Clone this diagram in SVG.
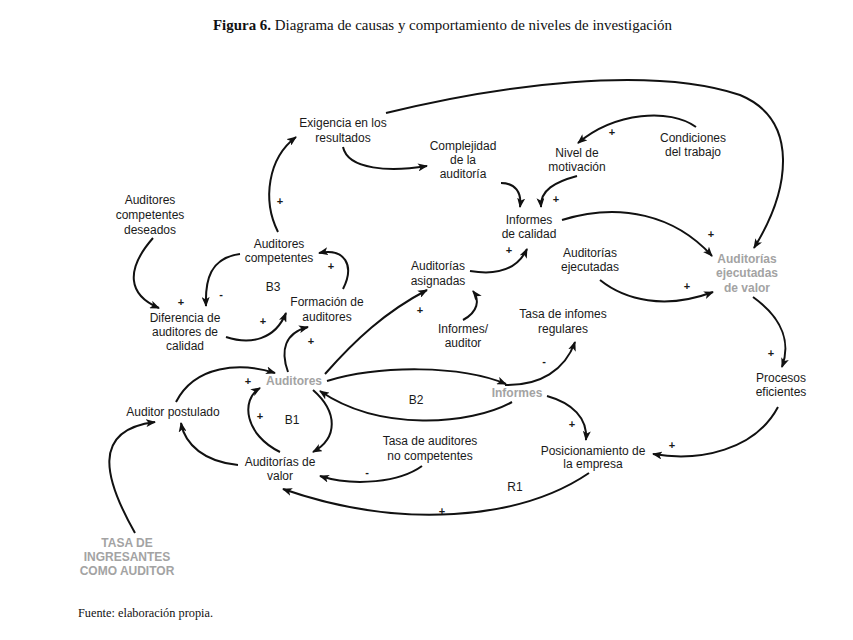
<svg xmlns="http://www.w3.org/2000/svg" width="853" height="640" viewBox="0 0 853 640">
<style>
.n{font-family:"Liberation Sans",Arial,sans-serif;font-size:12px;fill:#1a1a1a;text-anchor:middle}
.g{font-family:"Liberation Sans",Arial,sans-serif;font-size:12px;font-weight:bold;fill:#a3a3a3;text-anchor:middle}
.p{font-family:"Liberation Sans",Arial,sans-serif;font-size:11px;font-weight:bold;fill:#1a1a1a;text-anchor:middle}
.l{font-family:"Liberation Sans",Arial,sans-serif;font-size:12px;fill:#1a1a1a;text-anchor:middle}
.c path{fill:none;stroke:#111;stroke-width:2;marker-end:url(#a)}
.s{font-family:"Liberation Serif","Times New Roman",serif;fill:#111}
</style>
<defs>
<marker id="a" viewBox="0 0 10 8" refX="9" refY="4" markerWidth="10" markerHeight="8" markerUnits="userSpaceOnUse" orient="auto">
<path d="M0,0 L10,4 L0,8 L2.5,4 z" fill="#111"/>
</marker>
</defs>
<rect width="853" height="640" fill="#fff"/>
<text class="s" x="213" y="30" font-size="15" textLength="459" lengthAdjust="spacingAndGlyphs"><tspan font-weight="bold">Figura 6.</tspan> Diagrama de causas y comportamiento de niveles de investigación</text>
<text class="s" x="78" y="617" font-size="13" textLength="135" lengthAdjust="spacingAndGlyphs">Fuente: elaboración propia.</text>

<g class="c" id="connectors">
<path d="M278,232 C262,200 268,158 296,137"/>
<path d="M343,147 C348,170 390,172 427,166"/>
<path d="M386,113 C500,85 650,65 740,95 C800,120 790,190 754,248"/>
<path d="M153,238 C125,270 128,295 159,308"/>
<path d="M240,254 C210,258 205,280 206,306"/>
<path d="M226,337 C250,345 275,340 286,313"/>
<path d="M343,289 C355,265 345,248 319,253"/>
<path d="M288,372 C280,350 285,333 308,327"/>
<path d="M325,374 C355,340 385,312 427,290"/>
<path d="M463,320 C478,312 480,300 473,291"/>
<path d="M470,271 C500,276 518,268 527,249"/>
<path d="M501,183 C515,183 522,192 520,207"/>
<path d="M577,176 C555,182 540,190 541,207"/>
<path d="M696,127 C670,108 615,112 578,143"/>
<path d="M562,220 C620,202 675,215 712,256"/>
<path d="M600,280 C625,300 665,310 713,292"/>
<path d="M753,297 C785,320 790,345 782,367"/>
<path d="M778,407 C755,450 700,462 653,454"/>
<path d="M547,396 C572,403 588,418 586,440"/>
<path d="M327,381 C380,365 460,365 506,384"/>
<path d="M505,385 C540,386 565,370 575,342"/>
<path d="M512,402 C470,425 380,432 320,391"/>
<path d="M313,390 C338,412 338,438 313,452"/>
<path d="M280,452 C245,435 240,400 260,388"/>
<path d="M238,465 C205,462 185,445 181,423"/>
<path d="M176,402 C195,365 240,362 275,373"/>
<path d="M135,533 C105,480 90,430 155,422"/>
<path d="M422,466 C400,482 355,487 320,476"/>
<path d="M589,473 C520,520 400,530 283,489"/>
</g>

<g id="n-exigencia"><text class="n" x="343" y="127">Exigencia en los</text><text class="n" x="343" y="142">resultados</text></g>
<g id="n-deseados"><text class="n" x="150" y="204">Auditores</text><text class="n" x="150" y="219">competentes</text><text class="n" x="150" y="234">deseados</text></g>
<g id="n-competentes"><text class="n" x="279" y="248">Auditores</text><text class="n" x="279" y="262">competentes</text></g>
<g id="n-formacion"><text class="n" x="327" y="306">Formación de</text><text class="n" x="327" y="321">auditores</text></g>
<g id="n-diferencia"><text class="n" x="185" y="322">Diferencia de</text><text class="n" x="185" y="336">auditores de</text><text class="n" x="185" y="350">calidad</text></g>
<g id="n-complejidad"><text class="n" x="463" y="150">Complejidad</text><text class="n" x="463" y="164">de la</text><text class="n" x="463" y="178">auditoría</text></g>
<g id="n-motivacion"><text class="n" x="577" y="157">Nivel de</text><text class="n" x="577" y="171">motivación</text></g>
<g id="n-condiciones"><text class="n" x="693" y="142">Condiciones</text><text class="n" x="693" y="156">del trabajo</text></g>
<g id="n-informes-calidad"><text class="n" x="529" y="224">Informes</text><text class="n" x="529" y="238">de calidad</text></g>
<g id="n-ejecutadas"><text class="n" x="590" y="257">Auditorías</text><text class="n" x="590" y="271">ejecutadas</text></g>
<g id="n-ejecutadas-valor"><text class="g" x="747" y="263">Auditorías</text><text class="g" x="747" y="277">ejecutadas</text><text class="g" x="747" y="292">de valor</text></g>
<g id="n-asignadas"><text class="n" x="438" y="270">Auditorías</text><text class="n" x="438" y="285">asignadas</text></g>
<g id="n-informes-auditor"><text class="n" x="463" y="333">Informes/</text><text class="n" x="463" y="347">auditor</text></g>
<g id="n-tasa-informes"><text class="n" x="563" y="318">Tasa de infomes</text><text class="n" x="563" y="333">regulares</text></g>
<g id="n-procesos"><text class="n" x="781" y="382">Procesos</text><text class="n" x="781" y="396">eficientes</text></g>
<g id="n-informes"><text class="g" x="517" y="397">Informes</text></g>
<g id="n-posicionamiento"><text class="n" x="593" y="455">Posicionamiento de</text><text class="n" x="593" y="468">la empresa</text></g>
<g id="n-auditores"><text class="g" x="294" y="385">Auditores</text></g>
<g id="n-postulado"><text class="n" x="173" y="416">Auditor postulado</text></g>
<g id="n-aud-valor"><text class="n" x="280" y="466">Auditorías de</text><text class="n" x="280" y="480">valor</text></g>
<g id="n-no-competentes"><text class="n" x="430" y="445">Tasa de auditores</text><text class="n" x="430" y="460">no competentes</text></g>
<g id="n-tasa-ingresantes"><text class="g" x="127" y="547">TASA DE</text><text class="g" x="127" y="561">INGRESANTES</text><text class="g" x="127" y="575">COMO AUDITOR</text></g>

<g id="loop-labels">
<text class="l" x="273" y="291">B3</text>
<text class="l" x="416" y="404">B2</text>
<text class="l" x="292" y="424">B1</text>
<text class="l" x="515" y="491">R1</text>
</g>

<g id="polarities">
<text class="p" x="280" y="205">+</text>
<text class="p" x="181" y="306">+</text>
<text class="p" x="221" y="298">-</text>
<text class="p" x="331" y="270">+</text>
<text class="p" x="263" y="325">+</text>
<text class="p" x="311" y="345">+</text>
<text class="p" x="420" y="314">+</text>
<text class="p" x="556" y="203">+</text>
<text class="p" x="612" y="136">+</text>
<text class="p" x="509" y="254">+</text>
<text class="p" x="711" y="238">+</text>
<text class="p" x="687" y="290">+</text>
<text class="p" x="771" y="357">+</text>
<text class="p" x="544" y="365">-</text>
<text class="p" x="572" y="428">+</text>
<text class="p" x="672" y="449">+</text>
<text class="p" x="442" y="515">+</text>
<text class="p" x="248" y="385">+</text>
<text class="p" x="260" y="420">+</text>
<text class="p" x="367" y="476">-</text>
</g>
</svg>
